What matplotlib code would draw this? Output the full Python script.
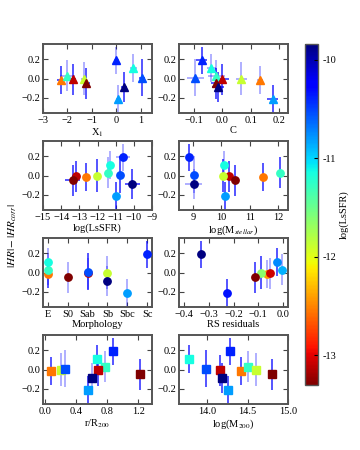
import numpy as np
import matplotlib
matplotlib.use('Agg')
import matplotlib.pyplot as plt
from matplotlib import cm, colors

plt.rcParams['font.family'] = ['Liberation Serif', 'DejaVu Serif']
plt.rcParams['mathtext.fontset'] = 'stix'
plt.rcParams['font.size'] = 7.5

# galaxies A..J
hr = [-0.015, 0.03, -0.01, 0.0, -0.05, 0.19, -0.21, -0.09, 0.11, 0.01]
hr_err = [0.15, 0.16, 0.16, 0.17, 0.16, 0.14, 0.14, 0.16, 0.15, 0.19]
lssfr = [-12.66, -11.43, -13.18, -12.03, -13.37, -10.60, -11.00, -10.08, -11.32, -10.74]
x1 = [-2.28, -2.0, -1.79, -1.34, -1.24, 0.0, 0.07, 0.32, 0.69, 1.03]
x1_err = [0.15, 0.3, 0.15, 0.1, 0.15, 0.1, 0.1, 0.12, 0.15, 0.12]
c_col = [0.131, -0.021, -0.002, 0.067, -0.021, -0.073, 0.176, -0.016, -0.039, -0.095]
c_err = [0.01, 0.03, 0.025, 0.02, 0.02, 0.02, 0.02, 0.02, 0.015, 0.03]
lssfr_err = [0.1, 0.1, 0.2, 0.1, 0.4, 0.4, 0.1, 0.4, 0.1, 0.1]
mstellar = [11.46, 12.05, 10.27, 10.06, 10.48, 8.85, 10.12, 9.02, 10.1, 9.02]
mstellar_err = [0.05, 0.05, 0.1, 0.05, 0.05, 0.1, 0.05, 0.3, 0.05, 0.05]
morph = [0, 0, 2, 3, 1, 5, 4, 3, 0, 2]
morph_labels = ['E', 'S0', 'Sab', 'Sb', 'Sbc', 'Sc']
rs = [-0.066, -0.004, -0.054, -0.091, -0.113, -0.33, -0.226, np.nan, -0.023, np.nan]
r_r200 = [0.07, 0.77, 0.68, 0.2, 1.22, 0.87, 0.55, 0.6, 0.67, 0.25]
m200 = [14.42, 14.51, 14.16, 14.6, 14.8, 14.28, 14.26, 14.18, 13.77, 13.99]

# which error bars are drawn faint in each panel
faint = {
    'x1': [0, 1, 0, 1, 0, 1, 1, 0, 1, 0],
    'c': [1, 1, 0, 1, 0, 0, 0, 0, 1, 1],
    'lssfr': [0, 1, 0, 0, 0, 1, 0, 0, 1, 0],
    'mst': [0, 0, 0, 0, 0, 0, 0, 1, 1, 1],
    'morph': [0, 1, 1, 1, 1, 0, 1, 1, 1, 0],
    'rs': [1, 1, 1, 0, 0, 0, 0, 0, 0, 1],
    'r200': [0, 1, 0, 1, 0, 0, 0, 1, 0, 1],
    'm200': [0, 1, 0, 1, 0, 0, 0, 0, 0, 0],
}

fig = plt.figure(figsize=(3.6, 4.5), dpi=100)

W, H = 360., 450.
lefts = [43, 179]
tops = [44, 141, 238, 335]
aw, ah = 109, 69


def make_ax(row, col):
    return fig.add_axes([lefts[col] / W, 1 - (tops[row] + ah) / H, aw / W, ah / H])


def panel(ax, x, xerr, key, marker):
    x = np.asarray(x, dtype=float)
    y = np.asarray(hr)
    ok = ~np.isnan(x)
    ssfr = np.asarray(lssfr)[ok]
    norm = colors.Normalize(ssfr.min(), ssfr.max())
    cols = cm.jet_r(norm(ssfr))
    xs, ys, ye = x[ok], y[ok], np.asarray(hr_err)[ok]
    xe = np.asarray(xerr)[ok] if xerr is not None else np.zeros(ok.sum())
    fl = np.asarray(faint[key])[ok]
    for i in range(len(xs)):
        ax.errorbar(xs[i], ys[i], xerr=xe[i] if xe[i] > 0 else None, yerr=ye[i],
                    fmt='none', ecolor='b', alpha=0.4 if fl[i] else 0.85,
                    elinewidth=1.1, capsize=0, zorder=2)
    for i in range(len(xs)):
        ax.plot(xs[i], ys[i], marker=marker, ms=5.3, color=cols[i], mec=cols[i],
                ls='none', zorder=3)
    ax.set_ylim(-0.36, 0.36)
    ax.set_yticks([-0.2, 0.0, 0.2])
    ax.tick_params(direction='in', top=True, right=True, length=3.5, width=0.8,
                   labelsize=7.5, pad=2, color='#444444')
    for s in ax.spines.values():
        s.set_linewidth(1.4)
        s.set_color('#555555')


ax = make_ax(0, 0)
panel(ax, x1, x1_err, 'x1', '^')
ax.set_xlim(-3, 1.45)
ax.set_xticks([-3, -2, -1, 0, 1])
ax.set_xlabel('X$_1$', labelpad=1)

ax = make_ax(0, 1)
panel(ax, c_col, c_err, 'c', '^')
ax.set_xlim(-0.152, 0.23)
ax.set_xticks([-0.1, 0.0, 0.1, 0.2])
ax.set_xlabel('C', labelpad=1)

ax = make_ax(1, 0)
panel(ax, lssfr, lssfr_err, 'lssfr', 'o')
ax.set_xlim(-15, -9)
ax.set_xticks([-15, -14, -13, -12, -11, -10, -9])
ax.set_xlabel('log(LsSFR)', labelpad=1)

ax = make_ax(1, 1)
panel(ax, mstellar, mstellar_err, 'mst', 'o')
ax.set_xlim(8.5, 12.35)
ax.set_xticks([9, 10, 11, 12])
ax.set_xlabel('log(M$_{stellar}$)', labelpad=1)

ax = make_ax(2, 0)
panel(ax, morph, None, 'morph', 'o')
ax.set_xlim(-0.25, 5.25)
ax.set_xticks(range(6))
ax.set_xticklabels(morph_labels)
ax.set_xlabel('Morphology', labelpad=1)

ax = make_ax(2, 1)
panel(ax, rs, None, 'rs', 'o')
ax.set_xlim(-0.42, 0.02)
ax.set_xticks([-0.4, -0.3, -0.2, -0.1, 0.0])
ax.set_xlabel('RS residuals', labelpad=1)

ax = make_ax(3, 0)
panel(ax, r_r200, None, 'r200', 's')
ax.set_xlim(-0.03, 1.38)
ax.set_xticks([0.0, 0.4, 0.8, 1.2])
ax.set_xlabel('r/R$_{200}$', labelpad=1)

ax = make_ax(3, 1)
panel(ax, m200, None, 'm200', 's')
ax.set_xlim(13.65, 15.0)
ax.set_xticks([14.0, 14.5, 15.0])
ax.set_xlabel('log(M$_{200}$)', labelpad=1)

fig.text(13 / W, 1 - 236 / H, r'$|HR|-|HR_{corr}|$', rotation=90, va='center',
         ha='center', fontsize=8)

cax = fig.add_axes([305 / W, 1 - 385 / H, 13 / W, 341 / H])
sm = cm.ScalarMappable(norm=colors.Normalize(-13.3, -9.84), cmap='jet_r')
cb = fig.colorbar(sm, cax=cax, ticks=[-10, -11, -12, -13])
cb.ax.set_yticklabels(['-10', '-11', '-12', '-13'])
cb.ax.tick_params(labelsize=7.5, length=3, direction='in')
cb.set_label('log(LsSFR)', fontsize=7.5, labelpad=2)
cb.outline.set_linewidth(1.0)
cb.outline.set_edgecolor('#555555')

plt.savefig('out.png', dpi=100)
